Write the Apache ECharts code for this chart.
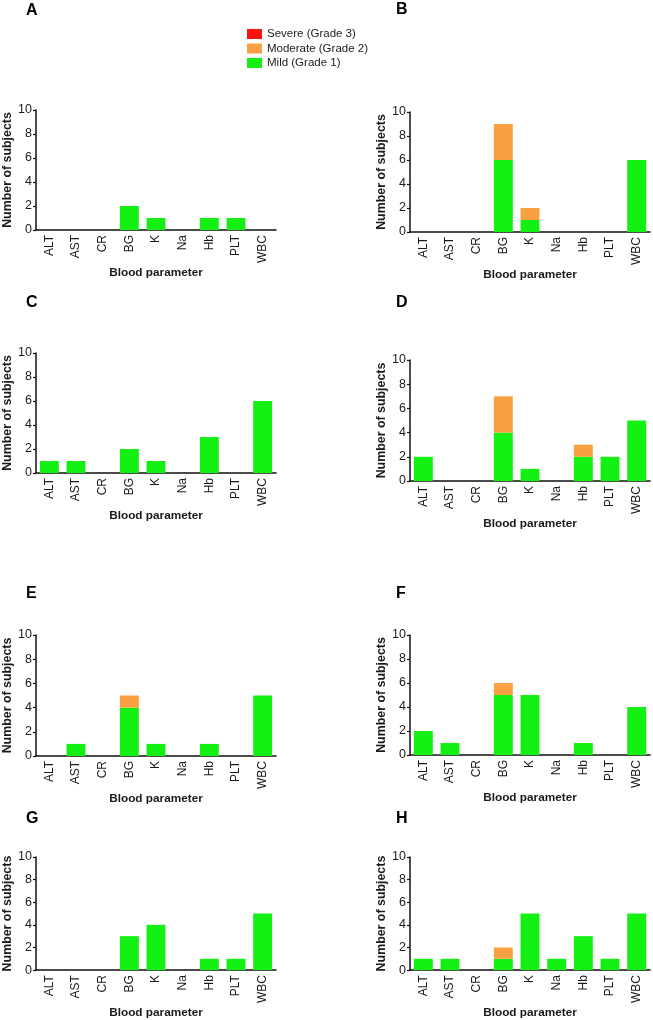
<!DOCTYPE html>
<html>
<head>
<meta charset="utf-8">
<script src="https://cdn.jsdelivr.net/npm/echarts@6/dist/echarts.min.js"></script>
<style>
html,body{margin:0;padding:0;background:#fff;}
#chart{width:653px;height:1020px;}
</style>
</head>
<body>
<div id="chart"></div>
<script>
// ---- data ----
const categories = ['ALT','AST','CR','BG','K','Na','Hb','PLT','WBC'];
const panelLabels = ['A','B','C','D','E','F','G','H'];
const seriesNames = ['Severe (Grade 3)','Moderate (Grade 2)','Mild (Grade 1)'];
const yTicks = [0, 2, 4, 6, 8, 10];

const mildA = [0,0,0,2,1,0,1,1,0];
const modA  = [0,0,0,0,0,0,0,0,0];
const sevA  = [0,0,0,0,0,0,0,0,0];

const mildB = [0,0,0,6,1,0,0,0,6];
const modB  = [0,0,0,3,1,0,0,0,0];
const sevB  = [0,0,0,0,0,0,0,0,0];

const mildC = [1,1,0,2,1,0,3,0,6];
const modC  = [0,0,0,0,0,0,0,0,0];
const sevC  = [0,0,0,0,0,0,0,0,0];

const mildD = [2,0,0,4,1,0,2,2,5];
const modD  = [0,0,0,3,0,0,1,0,0];
const sevD  = [0,0,0,0,0,0,0,0,0];

const mildE = [0,1,0,4,1,0,1,0,5];
const modE  = [0,0,0,1,0,0,0,0,0];
const sevE  = [0,0,0,0,0,0,0,0,0];

const mildF = [2,1,0,5,5,0,1,0,4];
const modF  = [0,0,0,1,0,0,0,0,0];
const sevF  = [0,0,0,0,0,0,0,0,0];

const mildG = [0,0,0,3,4,0,1,1,5];
const modG  = [0,0,0,0,0,0,0,0,0];
const sevG  = [0,0,0,0,0,0,0,0,0];

const mildH = [1,1,0,1,5,1,3,1,5];
const modH  = [0,0,0,1,0,0,0,0,0];
const sevH  = [0,0,0,0,0,0,0,0,0];

const panelData = [
  [mildA, modA, sevA], [mildB, modB, sevB],
  [mildC, modC, sevC], [mildD, modD, sevD],
  [mildE, modE, sevE], [mildF, modF, sevF],
  [mildG, modG, sevG], [mildH, modH, sevH]
];

// ---- layout ----
const FONT = 'Arial, "Liberation Sans", Helvetica, sans-serif';
const TXT = '#1a1a1a';
const colors = {sev:'#ff1010', mod:'#fa9f42', mild:'#14ef14'};
const grids = [
  {left:36,  top:110, width:240, height:120},
  {left:410, top:112, width:240, height:120},
  {left:36,  top:353, width:240, height:120},
  {left:410, top:360, width:240, height:121},
  {left:36,  top:635, width:240, height:121},
  {left:410, top:635, width:240, height:120},
  {left:36,  top:857, width:240, height:120},
  {left:410, top:857, width:240, height:120}
];
const labelPos = [
  {left:26, top:3}, {left:396, top:2},
  {left:26, top:295}, {left:396, top:295},
  {left:26, top:586}, {left:396, top:586},
  {left:26, top:811}, {left:396, top:811}
];

const option = {
  animation:false,
  backgroundColor:'#fff',
  title: panelLabels.map((t,i)=>({
    text:t, left:labelPos[i].left, top:labelPos[i].top, padding:0,
    textStyle:{fontFamily:FONT, fontSize:16, fontWeight:'bold', color:'#000'}
  })),
  legend:{
    data:seriesNames, orient:'vertical', left:247, top:28,
    itemWidth:15, itemHeight:10, itemGap:2.5, icon:'rect', padding:0,
    textStyle:{fontFamily:FONT, fontSize:11.5, color:TXT}
  },
  grid: grids.map(g=>Object.assign({containLabel:false}, g)),
  xAxis: grids.map((g,i)=>({
    type:'category', gridIndex:i, data:categories,
    name:'Blood parameter', nameLocation:'middle', nameGap:32,
    nameTextStyle:{fontFamily:FONT, fontSize:11.8, fontWeight:'bold', color:TXT},
    axisLine:{lineStyle:{color:'#111', width:1.5}},
    axisTick:{show:false},
    axisLabel:{interval:0, rotate:90, margin:5, fontFamily:FONT, fontSize:12, color:TXT}
  })),
  yAxis: grids.map((g,i)=>({
    type:'value', gridIndex:i, min:yTicks[0], max:yTicks[yTicks.length-1], interval:yTicks[1]-yTicks[0],
    name:'Number of subjects', nameLocation:'middle', nameGap:22,
    nameTextStyle:{fontFamily:FONT, fontSize:12.4, fontWeight:'bold', color:TXT},
    axisLine:{show:true, lineStyle:{color:'#111', width:1.5}},
    axisTick:{show:true, length:3, lineStyle:{color:'#111', width:1.2}},
    splitLine:{show:false},
    axisLabel:{margin:4, fontFamily:FONT, fontSize:12.5, color:TXT}
  })),
  series: []
};

panelData.forEach((d,i)=>{
  const [mild, mod, sev] = d;
  const common = {type:'bar', xAxisIndex:i, yAxisIndex:i, stack:'p'+i, barWidth:'71%'};
  option.series.push(Object.assign({name:seriesNames[2], data:mild, itemStyle:{color:colors.mild}}, common));
  option.series.push(Object.assign({name:seriesNames[1], data:mod, itemStyle:{color:colors.mod}}, common));
  option.series.push(Object.assign({name:seriesNames[0], data:sev, itemStyle:{color:colors.sev}}, common));
});

const chart = echarts.init(document.getElementById('chart'), null, {renderer:'canvas'});
chart.setOption(option);
</script>
</body>
</html>
